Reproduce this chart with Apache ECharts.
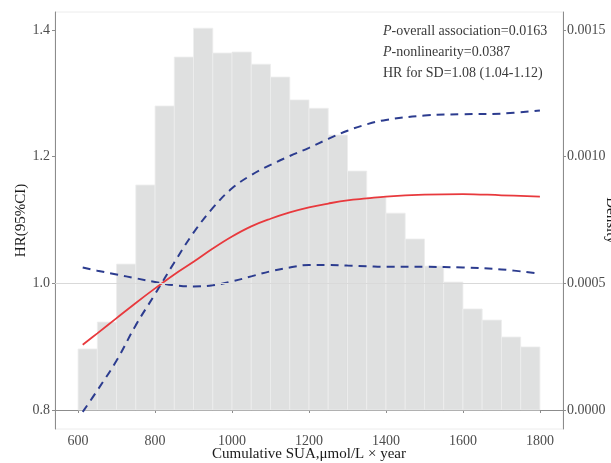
<!DOCTYPE html>
<html>
<head>
<meta charset="utf-8">
<script src="https://cdn.jsdelivr.net/npm/echarts@6/dist/echarts.min.js"></script>
<style>
  html, body { margin: 0; padding: 0; background: #fff; }
  #main { width: 611px; height: 463px; }
</style>
</head>
<body>
<div id="main"></div>
<script>
// histogram of the exposure (right axis, density)
const binStarts = [600, 650, 700, 750, 800, 850, 900, 950, 1000, 1050, 1100, 1150,
  1200, 1250, 1300, 1350, 1400, 1450, 1500, 1550, 1600, 1650, 1700, 1750];
const density = [0.000241, 0.000347, 0.000576, 0.000888, 0.00120, 0.001393, 0.001507, 0.001409,
  0.001413, 0.001365, 0.001314, 0.001224, 0.001191, 0.001085, 0.000943, 0.000840,
  0.000777, 0.000675, 0.000568, 0.000505, 0.000399, 0.000355, 0.000288, 0.000249];

// restricted cubic spline HR and 95% CI (left axis)
const sua = [612, 650, 700, 750, 800, 850, 900, 950, 1000, 1050, 1100, 1150, 1200,
  1250, 1300, 1350, 1400, 1500, 1600, 1700, 1800];
const hr = [0.903, 0.921, 0.945, 0.969, 0.992, 1.014, 1.034, 1.055, 1.074, 1.090, 1.102, 1.112, 1.120,
  1.126, 1.131, 1.134, 1.137, 1.140, 1.141, 1.139, 1.137];
const upper = [0.797, 0.831, 0.878, 0.934, 0.983, 1.033, 1.080, 1.119, 1.150, 1.171, 1.187, 1.201, 1.214,
  1.228, 1.241, 1.251, 1.258, 1.265, 1.267, 1.268, 1.273];
const lower = [1.025, 1.020, 1.014, 1.008, 1.002, 0.997, 0.995, 0.997, 1.003, 1.011, 1.019, 1.025, 1.029,
  1.029, 1.028, 1.027, 1.026, 1.026, 1.025, 1.022, 1.015];

const xTicks = [600, 800, 1000, 1200, 1400, 1600, 1800];
const hrTicks = [0.8, 1.0, 1.2, 1.4];
const densTicks = [0, 0.0005, 0.001, 0.0015];
const notes = ['overall association=0.0163', 'nonlinearity=0.0387', 'HR for SD=1.08 (1.04-1.12)'];

const serif = '"Liberation Serif", "DejaVu Serif", serif';
const tickGrey = '#4d4d4d';
const axisGrey = '#8c8c8c';

const chart = echarts.init(document.getElementById('main'), null, { renderer: 'canvas' });

const binWidth = binStarts[1] - binStarts[0];
const zip = (xs, ys) => xs.map((x, i) => [x, ys[i]]);

function renderBin(params, api) {
  const x0 = api.value(0);
  const top = api.coord([x0, api.value(1)]);
  const base = api.coord([x0 + binWidth, 0]);
  return {
    type: 'rect',
    shape: { x: top[0], y: top[1], width: base[0] - top[0], height: base[1] - top[1] },
    style: { fill: '#dfe0e0', stroke: '#eeeeee', lineWidth: 0.8 }
  };
}

const dashed = {
  color: '#2c3c8f',
  width: 2,
  type: [8, 6]
};

const option = {
  animation: false,
  textStyle: { fontFamily: serif },
  grid: {
    left: 55, right: 48, top: 12, bottom: 34,
    outerBoundsMode: 'none',
    containLabel: false,
    show: true, borderColor: '#ececec', borderWidth: 1
  },
  xAxis: {
    type: 'value',
    min: 540, max: 1860,
    name: 'Cumulative SUA,\u03bcmol/L \u00d7 year',
    nameLocation: 'middle',
    nameMoveOverlap: false,
    nameGap: 18,
    nameTextStyle: { fontFamily: serif, fontSize: 15, color: '#1a1a1a' },
    axisLine: { show: true, lineStyle: { color: axisGrey, width: 1 } },
    axisTick: { show: true, length: 3, lineStyle: { color: axisGrey }, customValues: xTicks },
    axisLabel: { fontFamily: serif, fontSize: 14, color: tickGrey, margin: 5, customValues: xTicks,
      formatter: v => String(v) },
    splitLine: { show: false }
  },
  yAxis: [{
    type: 'value',
    position: 'left',
    min: 0.77, max: 1.4284,
    name: 'HR(95%CI)',
    nameLocation: 'middle',
    nameMoveOverlap: false,
    nameGap: 26,
    nameTextStyle: { fontFamily: serif, fontSize: 15, color: '#1a1a1a' },
    axisLine: { show: true, lineStyle: { color: axisGrey, width: 1 } },
    axisTick: { show: true, length: 3, lineStyle: { color: axisGrey }, customValues: hrTicks },
    axisLabel: { fontFamily: serif, fontSize: 14, color: tickGrey, margin: 5, customValues: hrTicks,
      formatter: v => v.toFixed(1) },
    splitLine: { show: false }
  }, {
    type: 'value',
    position: 'right',
    min: -0.000075, max: 0.001571,
    name: 'Density',
    nameLocation: 'middle',
    nameMoveOverlap: false,
    nameRotate: -90,
    nameGap: 40,
    nameTextStyle: { fontFamily: serif, fontSize: 15, color: '#1a1a1a' },
    axisLine: { show: true, lineStyle: { color: axisGrey, width: 1 } },
    axisTick: { show: true, length: 3, lineStyle: { color: axisGrey }, customValues: densTicks },
    axisLabel: { fontFamily: serif, fontSize: 14, color: tickGrey, margin: 4, customValues: densTicks,
      formatter: v => v.toFixed(4) },
    splitLine: { show: false }
  }],
  graphic: notes.map((t, i) => ({
    type: 'text',
    left: 383,
    top: 24 + i * 21,
    z: 10,
    style: {
      text: i < 2 ? '{i|P}-' + t : t,
      font: '14px ' + serif,
      fill: '#3a3a3a',
      rich: { i: { fontStyle: 'italic', fontFamily: serif, fontSize: 14, fill: '#3a3a3a' } }
    }
  })),
  series: [{
    type: 'custom',
    xAxisIndex: 0,
    yAxisIndex: 1,
    renderItem: renderBin,
    encode: { x: 0, y: 1 },
    data: zip(binStarts, density),
    silent: true,
    z: 1
  }, {
    type: 'line',
    yAxisIndex: 0,
    data: zip(sua, lower),
    showSymbol: false,
    smooth: 0.4,
    lineStyle: dashed,
    z: 3,
    markLine: {
      silent: true,
      symbol: 'none',
      label: { show: false },
      lineStyle: { color: '#d9d9d9', width: 1, type: 'solid' },
      data: [{ yAxis: 1.0 }]
    }
  }, {
    type: 'line',
    yAxisIndex: 0,
    data: zip(sua, upper),
    showSymbol: false,
    smooth: 0.4,
    lineStyle: dashed,
    z: 3
  }, {
    type: 'line',
    yAxisIndex: 0,
    data: zip(sua, hr),
    showSymbol: false,
    smooth: 0.4,
    lineStyle: { color: '#e8393d', width: 1.8 },
    z: 4
  }]
};

chart.setOption(option);
</script>
</body>
</html>
